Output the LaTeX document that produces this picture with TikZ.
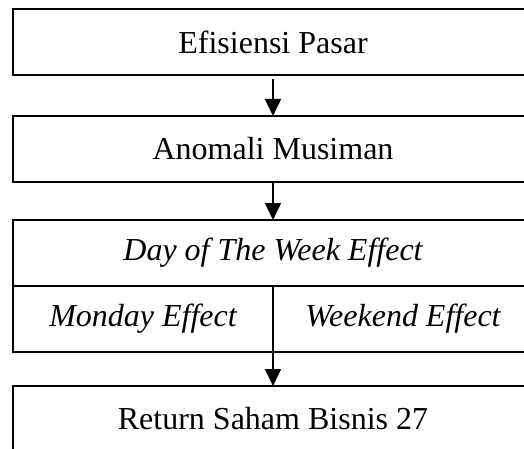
\documentclass[tikz,border=0pt]{standalone}
\usepackage{fontspec}
\setmainfont{Liberation Serif}
\usetikzlibrary{positioning,arrows.meta}
\begin{document}
\begin{tikzpicture}[font=\fontsize{16}{19}\selectfont]
\tikzstyle{box}=[draw,line width=1pt,minimum width=260pt,minimum height=33pt,inner sep=0pt,outer sep=0pt]
\tikzstyle{half box}=[draw,line width=1pt,minimum width=130pt,minimum height=33pt,inner sep=0pt,outer sep=0pt]
\tikzstyle{flow}=[-{Triangle[length=8.5pt,width=8pt]},line width=0.8pt]
\useasboundingbox (0,0) rectangle (262pt,-224.5pt);
\node(pasar)[box] at (136.5pt,-21.25pt){Efisiensi Pasar};
\node(musiman)[box,below=20.25pt of pasar]{Anomali Musiman};
\node(dotw)[box,below=19pt of musiman]{\itshape Day of The Week Effect};
\node(monday)[half box,anchor=north west] at (dotw.south west){\itshape Monday Effect};
\node(weekend)[half box,anchor=north east] at (dotw.south east){\itshape Weekend Effect};
\node(saham)[box,below=17pt of monday.south east]{Return Saham Bisnis 27};
\draw[flow,shorten <=2pt] (pasar) -- (musiman);
\draw[flow] (musiman) -- (dotw);
\draw[flow] (monday.south east) -- (saham);
\end{tikzpicture}
\end{document}
